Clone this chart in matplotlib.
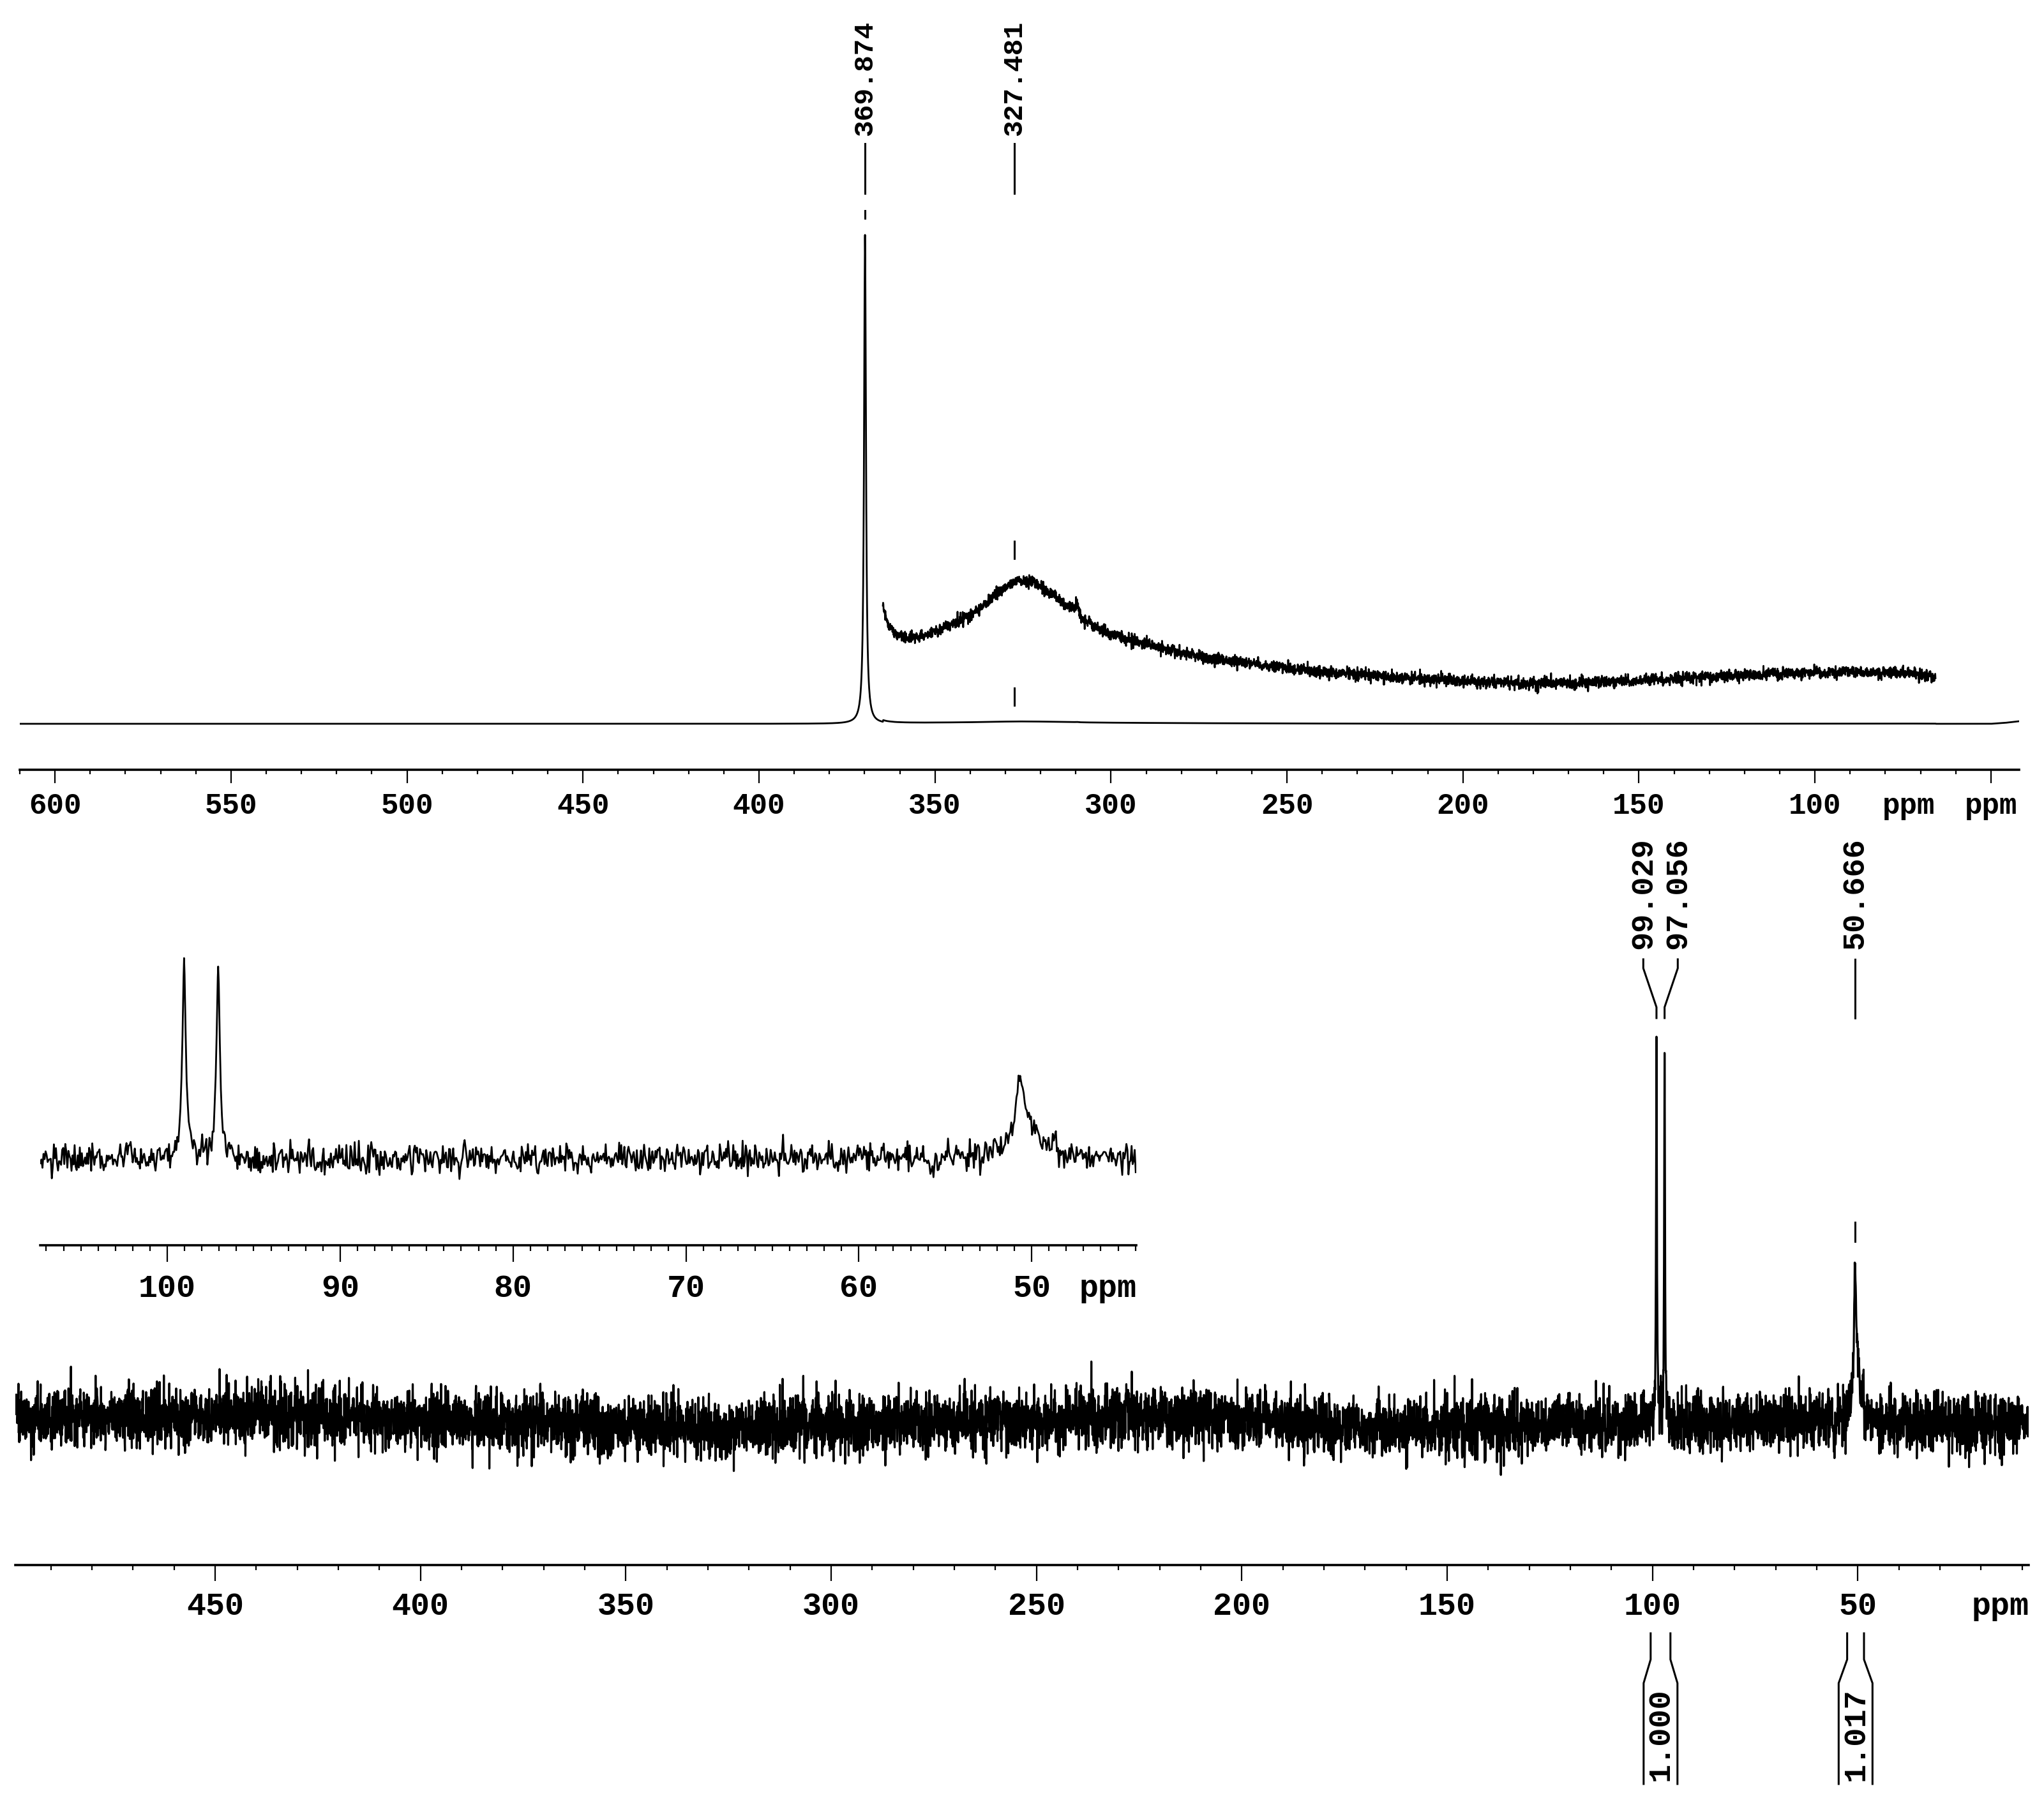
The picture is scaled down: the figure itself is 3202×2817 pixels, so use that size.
import numpy as np
import matplotlib
matplotlib.use('Agg')
import matplotlib.pyplot as plt
from matplotlib.lines import Line2D
from matplotlib.ticker import MultipleLocator

plt.rcParams['font.family'] = ['Liberation Mono', 'DejaVu Sans Mono']
plt.rcParams['font.weight'] = 'bold'

W, H = 3202, 2817

# ---------------- values ----------------
# upper trace (full sweep): one sharp line and a very broad hump
top_xlim = (610.0, 42.0)
top_ticks = [600, 550, 500, 450, 400, 350, 300, 250, 200, 150, 100, 50]
top_peak_ppm = 369.874
top_peak_height = 766.0
top_peak_hwhm = 0.33
top_labels = [369.874, 327.481]
top_tail_ppm = [50.0, 46.0, 42.0]
top_tail_rise = [0.0, 1.5, 4.0]

# magnified copy of the upper trace (level above the main baseline)
inset_top_ppm = [364.8, 363.7, 361.3, 357.9, 353.2, 348.6, 342.8, 337.0, 332.5,
                 326.7, 322.0, 317.4, 312.8, 310.5, 309.6, 308.8, 307.5, 303.4,
                 298.9, 291.9, 284.9, 275.7, 264.1, 252.5, 241.1, 229.5, 217.9,
                 199.4, 177.6, 156.8, 135.9, 115.0, 94.2, 78.4, 65.7]
inset_top_level = [185, 161, 141, 134, 138, 148, 161, 181, 205,
                   225, 222, 205, 185, 183, 190, 170, 161, 148,
                   139, 128, 118, 107, 97, 89, 82, 77, 72,
                   67, 62, 66, 72, 78, 81, 81, 74]
inset_top_offset = 64.0
inset_top_gain = 44.0
inset_top_noise = 4.5

# lower trace
bot_xlim = (498.6, 8.4)
bot_ticks = [450, 400, 350, 300, 250, 200, 150, 100, 50]
bot_peak_ppm = [99.029, 97.056, 50.666, 50.1]
bot_peak_height = [592.0, 573.0, 190.0, 75.0]
bot_peak_hwhm = [0.12, 0.12, 0.3, 1.0]
bot_labels = [99.029, 97.056, 50.666]
drift_ppm = [498.6, 450, 400, 350, 330, 300, 260, 220, 200, 170, 150, 120, 100, 60, 8.4]
drift_level = [8, 8, 4, -6, -10, -4, 2, 10, 4, -8, -8, -2, 0, 0, 0]
bot_noise = 23.0

integral_regions = [(100.45, 95.63), (52.6, 48.5)]
integral_values = [1.000, 1.017]

# expansion of the lower trace
zoom_xlim = (107.35, 43.95)
zoom_ticks = [100, 90, 80, 70, 60, 50]
zoom_gain = 0.52


def lorentz(x, x0, h, g):
    return h * g ** 2 / ((x - x0) ** 2 + g ** 2)


rng = np.random.default_rng(11)

# upper trace
top_x = np.union1d(np.arange(top_xlim[1], top_xlim[0], 0.1), [top_peak_ppm])[::-1]
top_y = lorentz(top_x, top_peak_ppm, top_peak_height, top_peak_hwhm)
top_y = top_y + np.interp(top_x, top_tail_ppm[::-1], top_tail_rise[::-1])

it_x = np.arange(inset_top_ppm[0], inset_top_ppm[-1], -0.07)
it_env = np.interp(it_x, inset_top_ppm[::-1], inset_top_level[::-1])
it_y = it_env + rng.normal(0, inset_top_noise, it_x.size)
hump = (np.array(inset_top_level[::-1], float) - inset_top_offset) / inset_top_gain
top_y = top_y + np.interp(top_x, inset_top_ppm[::-1], hump, left=0, right=0)

# lower trace
bot_x = np.union1d(np.arange(bot_xlim[1], bot_xlim[0], 0.06), bot_peak_ppm)[::-1]
signal = np.zeros_like(bot_x)
for p, h, g in zip(bot_peak_ppm, bot_peak_height, bot_peak_hwhm):
    signal = signal + lorentz(bot_x, p, h, g)
# noise is quieter on top of the strong lines, as in the picture
noise = rng.normal(0, bot_noise, bot_x.size) / (1 + signal / 200)
bot_y = np.interp(bot_x, drift_ppm[::-1], drift_level[::-1]) + signal + noise

fig = plt.figure(figsize=(W / 100, H / 100), dpi=100)


def px_axes(x0, y0, x1, y1):
    ax = fig.add_axes([x0 / W, 1 - y1 / H, (x1 - x0) / W, (y1 - y0) / H])
    ax.patch.set_visible(False)
    return ax


def fy(ypx):
    return 1 - ypx / H


def xpx(ax, ppm):
    return ax.transData.transform((ppm, 0))[0]


def seg(xs, ys, lw=2.2):
    fig.add_artist(Line2D([x / W for x in xs], [fy(y) for y in ys],
                          color='k', lw=lw, transform=fig.transFigure))


def style_axis(ax, ticks, minor, major_len, minor_len):
    for s in ['left', 'right', 'top']:
        ax.spines[s].set_visible(False)
    ax.spines['bottom'].set_linewidth(2.6)
    ax.set_yticks([])
    ax.set_xticks(ticks)
    ax.xaxis.set_minor_locator(MultipleLocator(minor))
    ax.tick_params(axis='x', which='major', length=major_len, width=1.6,
                   labelbottom=False)
    ax.tick_params(axis='x', which='minor', length=minor_len, width=1.6)


# ---------------- upper panel ----------------
ax_top = px_axes(31, 0, 3163, 1206)
ax_top.plot(top_x, top_y, color='k', lw=2.0)
ax_top.plot(it_x, it_y, color='k', lw=2.0)
style_axis(ax_top, top_ticks, 10, 15, 5)
ax_top.set_xlim(top_xlim)
ax_top.set_ylim(-72, 1134)

for t in top_ticks[:-1]:
    fig.text(xpx(ax_top, t) / W, fy(1275), str(t), ha='center', va='baseline', size=33)
fig.text(xpx(ax_top, top_ticks[-1]) / W, fy(1275), 'ppm', ha='center', va='baseline', size=33)
fig.text(2990 / W, fy(1275), 'ppm', ha='center', va='baseline', size=33)

for p in top_labels:
    x = xpx(ax_top, p)
    fig.text(x / W, fy(123), f'{p:.3f}', rotation=90, ha='center', va='center', size=31)
    seg([x, x], [225, 303])
x370 = xpx(ax_top, top_labels[0])
seg([x370, x370], [330, 342])
x327 = xpx(ax_top, top_labels[1])
seg([x327, x327], [848, 875])
seg([x327, x327], [1078, 1105])

# ---------------- lower panel ----------------
ax_bot = px_axes(24.3, 1290, 3178, 2452)
ax_bot.plot(bot_x, bot_y, color='k', lw=2.3)
style_axis(ax_bot, bot_ticks, 10, 18, 6)
ax_bot.set_xlim(bot_xlim)
ax_bot.set_ylim(-224, 938)

for t in bot_ticks:
    fig.text(xpx(ax_bot, t) / W, fy(2530), str(t), ha='center', va='baseline', size=36)
fig.text(3178 / W, fy(2530), 'ppm', ha='right', va='baseline', size=36)

peak_px = [xpx(ax_bot, p) for p in bot_labels]
lab_px = list(peak_px)
gap = 54
for _ in range(20):
    for i in range(len(lab_px) - 1):
        d = lab_px[i + 1] - lab_px[i]
        if d < gap:
            lab_px[i] -= (gap - d) / 2
            lab_px[i + 1] += (gap - d) / 2
for p, xp, xl in zip(bot_labels, peak_px, lab_px):
    fig.text(xl / W, fy(1400), f'{p:.3f}', rotation=90, ha='center', va='center', size=35)
    seg([xl, xl, xp, xp], [1503, 1517, 1578, 1595])
x50 = xpx(ax_bot, bot_labels[2])
seg([x50, x50], [1915, 1945])

# integrals under the axis
for (a, b), v in zip(integral_regions, integral_values):
    xa, xb = xpx(ax_bot, a), xpx(ax_bot, b)
    xc = (xa + xb) / 2
    seg([xa, xa, xc - 26.5, xc - 26.5], [2559, 2600, 2637, 2795])
    seg([xb, xb, xc + 26.5, xc + 26.5], [2559, 2600, 2637, 2795])
    fig.text(xc / W, fy(2717), f'{v:.3f}', rotation=90, ha='center', va='center', size=35)

# ---------------- expansion of the lower trace ----------------
ax_zoom = px_axes(63, 1480, 1780, 1951)
m = (bot_x <= zoom_xlim[0]) & (bot_x >= zoom_xlim[1])
ax_zoom.plot(bot_x[m], bot_y[m] * zoom_gain, color='k', lw=2.0)
style_axis(ax_zoom, zoom_ticks, 1, 19, 6.5)
ax_zoom.set_xlim(zoom_xlim)
ax_zoom.set_ylim(-136, 335)
for t in zoom_ticks:
    fig.text(xpx(ax_zoom, t) / W, fy(2032), str(t), ha='center', va='baseline', size=36)
fig.text(1780 / W, fy(2032), 'ppm', ha='right', va='baseline', size=36)

fig.savefig('out.png', dpi=100)
